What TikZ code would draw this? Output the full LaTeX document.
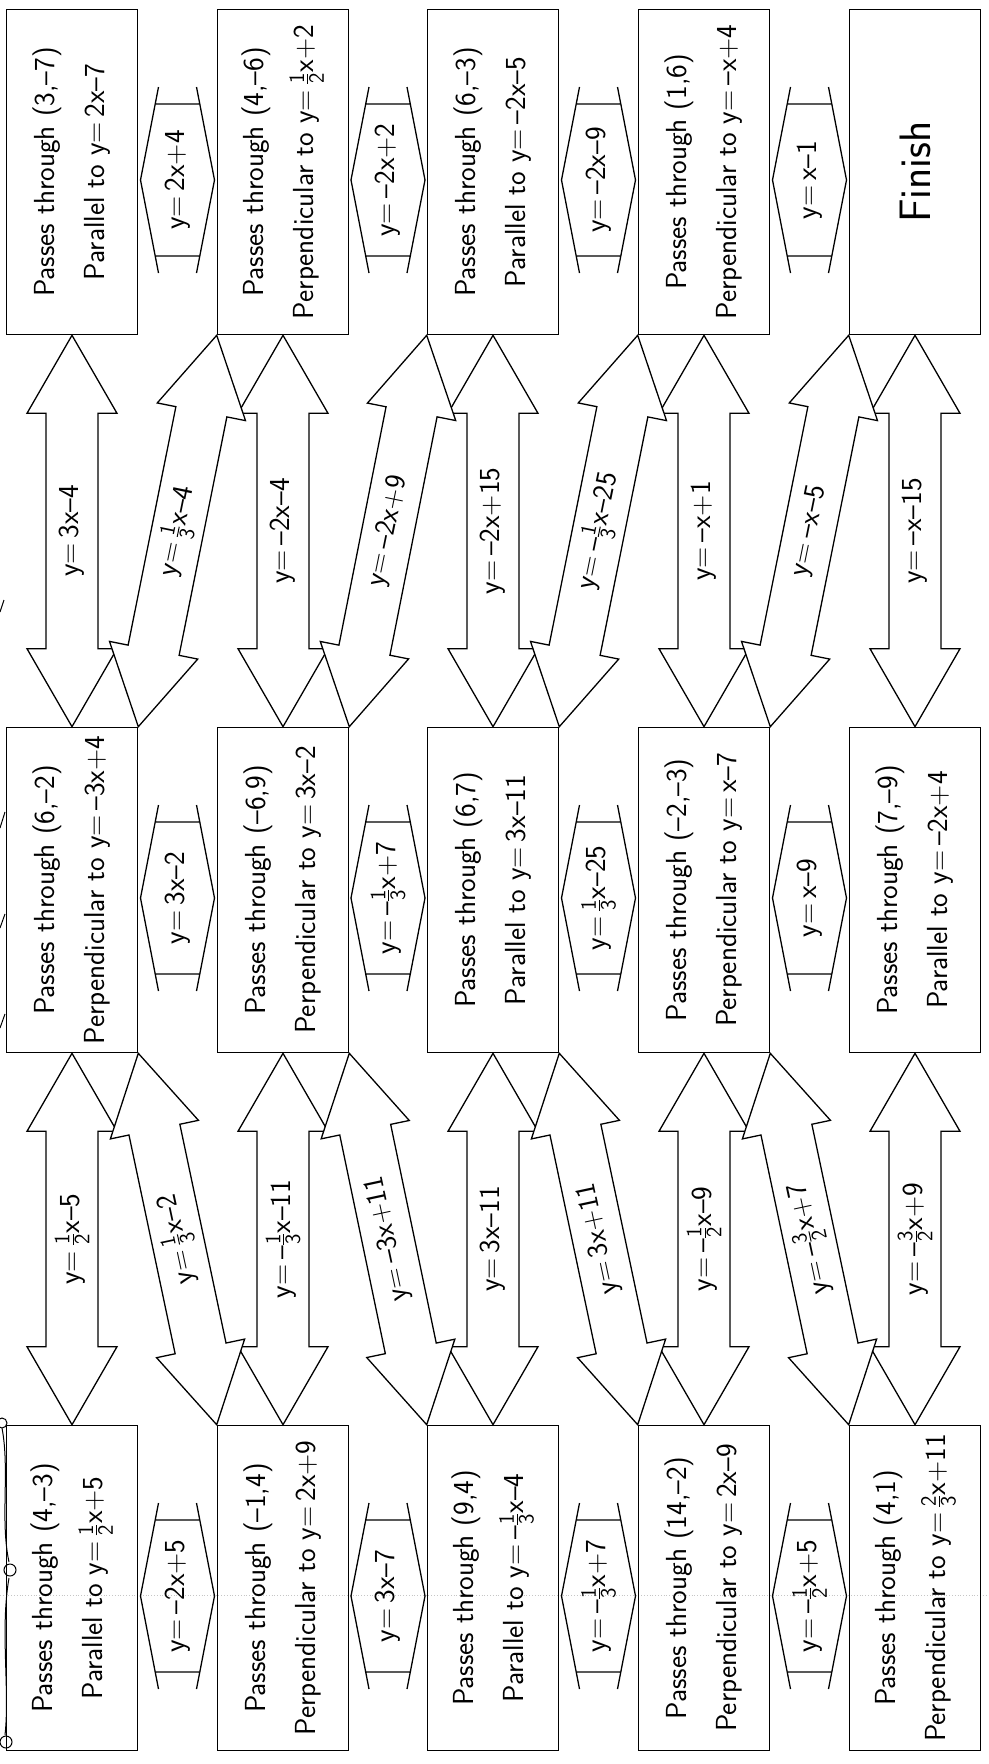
\documentclass[tikz,border=0pt]{standalone}
\usepackage{fontspec}
\usepackage{amsmath}
\usetikzlibrary{calc}
\newcommand{\mi}{\textendash}
\newcommand{\fr}[2]{$\genfrac{}{}{}{1}{\text{\fontsize{22}{22}\selectfont#1}}{\text{\fontsize{22}{22}\selectfont#2}}$}
\newcommand{\blockarrow}[2]{%
\path(#1)coordinate(s1)(#2)coordinate(s2)($(s1)!78pt!(s2)$)coordinate(h1)($(s2)!78pt!(s1)$)coordinate(h2);
\draw[barrow](s1)--($(h1)!45pt!90:(s2)$)--($(h1)!26pt!90:(s2)$)--($(h2)!26pt!-90:(s1)$)--($(h2)!45pt!-90:(s1)$)--(s2)--($(h2)!45pt!90:(s1)$)--($(h2)!26pt!90:(s1)$)--($(h1)!26pt!-90:(s2)$)--($(h1)!45pt!-90:(s2)$)--cycle;}
\tikzset{
box/.style={draw,line width=1.6pt,minimum width=131pt,minimum height=325pt,inner sep=0pt},
txt/.style={rotate=90,align=center,inner sep=0pt,font=\sffamily\fontsize{29}{50}\selectfont},
lbl/.style={inner sep=0pt,font=\sffamily\fontsize{29}{34}\selectfont},
barrow/.style={draw,fill=white,line width=1.3pt,line join=miter},
hexlink/.pic={\draw[line width=1.3pt](-19,-93)--(-37,0)--(-19,93)(19,-93)--(37,0)--(19,93)(-22.3,-76)--(22.3,-76)(-22.3,76)--(22.3,76);}
}
\begin{document}
\begin{tikzpicture}[x=1pt,y=-1pt]
\useasboundingbox[fill=white](0,0)rectangle(988,1764);
\draw[gray!45,dotted,line width=.8pt](0,1595)--(988,1595);
\draw[line width=1pt](0,612)--(4,600)(0,828)--(5,812)(0,928)--(5,914)(0,1028)--(5,1014);
\draw[line width=1pt](2,1423)circle(5)(2,1428)..controls(10,1470)and(0,1520)..(9,1562)(10,1570)circle(6)(9,1578)..controls(0,1630)and(10,1690)..(5,1735)(6,1742)circle(6);
\node[box](a1)at(72,172){};\node[txt](ta1)at(a1){Passes through (3,\mi7)\\Parallel to y=\,2x\mi7};
\node[box](a2)at(283,172){};\node[txt](ta2)at(a2){Passes through (4,\mi6)\\Perpendicular to y=\,\fr{1}{2}x+2};
\node[box](a3)at(493,172){};\node[txt](ta3)at(a3){Passes through (6,\mi3)\\Parallel to y=\,\mi2x\mi5};
\node[box](a4)at(704,172){};\node[txt](ta4)at(a4){Passes through (1,6)\\Perpendicular to y=\,\mi x+4};
\node[box](a5)at(915,172){};\node[txt,font=\sffamily\fontsize{44}{50}\selectfont](ta5)at(a5){Finish};
\node[box](b1)at(72,890){};\node[txt](tb1)at(b1){Passes through (6,\mi2)\\Perpendicular to y=\,\mi3x+4};
\node[box](b2)at(283,890){};\node[txt](tb2)at(b2){Passes through (\mi6,9)\\Perpendicular to y=\,3x\mi2};
\node[box](b3)at(493,890){};\node[txt](tb3)at(b3){Passes through (6,7)\\Parallel to y=\,3x\mi11};
\node[box](b4)at(704,890){};\node[txt](tb4)at(b4){Passes through (\mi2,\mi3)\\Perpendicular to y=\,x\mi7};
\node[box](b5)at(915,890){};\node[txt](tb5)at(b5){Passes through (7,\mi9)\\Parallel to y=\,\mi2x+4};
\node[box](c1)at(72,1588){};\node[txt](tc1)at(c1){Passes through (4,\mi3)\\Parallel to y=\,\fr{1}{2}x+5};
\node[box](c2)at(283,1588){};\node[txt](tc2)at(c2){Passes through (\mi1,4)\\Perpendicular to y=\,2x+9};
\node[box](c3)at(493,1588){};\node[txt](tc3)at(c3){Passes through (9,4)\\Parallel to y=\,\mi\fr{1}{3}x\mi4};
\node[box](c4)at(704,1588){};\node[txt](tc4)at(c4){Passes through (14,\mi2)\\Perpendicular to y=\,2x\mi9};
\node[box](c5)at(915,1588){};\node[txt](tc5)at(c5){Passes through (4,1)\\Perpendicular to y=\,\fr{2}{3}x+11};
\path($(a1.east)!.5!(a2.west)$)+(0,8)pic{hexlink}node[lbl,rotate=90](ha1){y=\,2x+4};
\path($(a2.east)!.5!(a3.west)$)+(0,8)pic{hexlink}node[lbl,rotate=90](ha2){y=\,\mi2x+2};
\path($(a3.east)!.5!(a4.west)$)+(0,8)pic{hexlink}node[lbl,rotate=90](ha3){y=\,\mi2x\mi9};
\path($(a4.east)!.5!(a5.west)$)+(0,8)pic{hexlink}node[lbl,rotate=90](ha4){y=\,x\mi1};
\path($(b1.east)!.5!(b2.west)$)+(0,8)pic{hexlink}node[lbl,rotate=90](hb1){y=\,3x\mi2};
\path($(b2.east)!.5!(b3.west)$)+(0,8)pic{hexlink}node[lbl,rotate=90](hb2){y=\,\mi\fr{1}{3}x+7};
\path($(b3.east)!.5!(b4.west)$)+(0,8)pic{hexlink}node[lbl,rotate=90](hb3){y=\,\fr{1}{3}x\mi25};
\path($(b4.east)!.5!(b5.west)$)+(0,8)pic{hexlink}node[lbl,rotate=90](hb4){y=\,x\mi9};
\path($(c1.east)!.5!(c2.west)$)+(0,8)pic{hexlink}node[lbl,rotate=90](hc1){y=\,\mi2x+5};
\path($(c2.east)!.5!(c3.west)$)+(0,8)pic{hexlink}node[lbl,rotate=90](hc2){y=\,3x\mi7};
\path($(c3.east)!.5!(c4.west)$)+(0,8)pic{hexlink}node[lbl,rotate=90](hc3){y=\,\mi\fr{1}{3}x+7};
\path($(c4.east)!.5!(c5.west)$)+(0,8)pic{hexlink}node[lbl,rotate=90](hc4){y=\,\mi\fr{1}{2}x+5};
\blockarrow{a1.south}{b1.north}\node[lbl,rotate=90](va1)at($(a1.south)!.5!(b1.north)$){y=\,3x\mi4};
\blockarrow{a2.south}{b2.north}\node[lbl,rotate=90](va2)at($(a2.south)!.5!(b2.north)$){y=\,\mi2x\mi4};
\blockarrow{a3.south}{b3.north}\node[lbl,rotate=90](va3)at($(a3.south)!.5!(b3.north)$){y=\,\mi2x+15};
\blockarrow{a4.south}{b4.north}\node[lbl,rotate=90](va4)at($(a4.south)!.5!(b4.north)$){y=\,\mi x+1};
\blockarrow{a5.south}{b5.north}\node[lbl,rotate=90](va5)at($(a5.south)!.5!(b5.north)$){y=\,\mi x\mi15};
\blockarrow{b1.south}{c1.north}\node[lbl,rotate=90](vb1)at($(b1.south)!.5!(c1.north)$){y=\,\fr{1}{2}x\mi5};
\blockarrow{b2.south}{c2.north}\node[lbl,rotate=90](vb2)at($(b2.south)!.5!(c2.north)$){y=\,\mi\fr{1}{3}x\mi11};
\blockarrow{b3.south}{c3.north}\node[lbl,rotate=90](vb3)at($(b3.south)!.5!(c3.north)$){y=\,3x\mi11};
\blockarrow{b4.south}{c4.north}\node[lbl,rotate=90](vb4)at($(b4.south)!.5!(c4.north)$){y=\,\mi\fr{1}{2}x\mi9};
\blockarrow{b5.south}{c5.north}\node[lbl,rotate=90](vb5)at($(b5.south)!.5!(c5.north)$){y=\,\mi\fr{3}{2}x+9};
\blockarrow{a2.south west}{b1.north east}\node[lbl,rotate=78.5](da1)at($(a2.south west)!.5!(b1.north east)$){y=\,\fr{1}{3}x\mi4};
\blockarrow{a3.south west}{b2.north east}\node[lbl,rotate=78.5](da2)at($(a3.south west)!.5!(b2.north east)$){y=\,\mi2x+9};
\blockarrow{a4.south west}{b3.north east}\node[lbl,rotate=78.5](da3)at($(a4.south west)!.5!(b3.north east)$){y=\,\mi\fr{1}{3}x\mi25};
\blockarrow{a5.south west}{b4.north east}\node[lbl,rotate=78.5](da4)at($(a5.south west)!.5!(b4.north east)$){y=\,\mi x\mi5};
\blockarrow{b1.south east}{c2.north west}\node[lbl,rotate=102.1](db1)at($(b1.south east)!.5!(c2.north west)$){y=\,\fr{1}{3}x\mi2};
\blockarrow{b2.south east}{c3.north west}\node[lbl,rotate=102.1](db2)at($(b2.south east)!.5!(c3.north west)$){y=\,\mi3x+11};
\blockarrow{b3.south east}{c4.north west}\node[lbl,rotate=102.1](db3)at($(b3.south east)!.5!(c4.north west)$){y=\,3x+11};
\blockarrow{b4.south east}{c5.north west}\node[lbl,rotate=102.1](db4)at($(b4.south east)!.5!(c5.north west)$){y=\,\mi\fr{3}{2}x+7};
\end{tikzpicture}
\end{document}
